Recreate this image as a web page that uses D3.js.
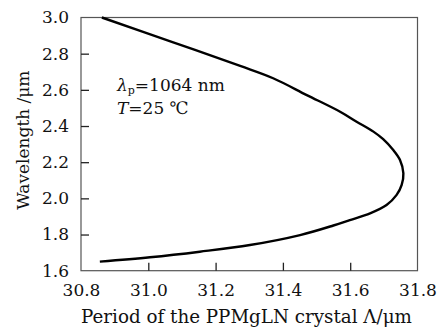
<!DOCTYPE html>
<html><head><meta charset="utf-8">
<script src="https://cdn.jsdelivr.net/npm/d3@7"></script>
<style>
html,body{margin:0;padding:0;background:#fff;}
svg{display:block;}
text{font-family:"DejaVu Serif",serif;fill:#111;}
</style></head>
<body><svg id="c" width="444" height="329"></svg>
<script>
// curve, ordered along the line (top end -> vertex -> bottom end)
const period = [30.862, 31.074, 31.273, 31.371, 31.471, 31.570, 31.619, 31.669, 31.698, 31.728, 31.748, 31.758, 31.753, 31.738, 31.708, 31.659, 31.599, 31.550, 31.451, 31.302, 31.153, 31.005, 30.856];
const wavelength = [3.000, 2.863, 2.732, 2.664, 2.571, 2.479, 2.424, 2.369, 2.327, 2.267, 2.212, 2.139, 2.074, 2.019, 1.963, 1.917, 1.880, 1.850, 1.797, 1.742, 1.705, 1.674, 1.650];
const xTicks = [30.8, 31.0, 31.2, 31.4, 31.6, 31.8];
const yTicks = [1.6, 1.8, 2.0, 2.2, 2.4, 2.6, 2.8, 3.0];

const svg = d3.select("#c");
const L = 81, R = 417.5, T = 17.5, B = 270.7;
const x = d3.scaleLinear().domain([30.8, 31.8]).range([L, R]);
const y = d3.scaleLinear().domain([1.6, 3.0]).range([B, T]);

// frame
svg.append("rect").attr("x", L).attr("y", T).attr("width", R - L).attr("height", B - T)
  .attr("fill", "none").attr("stroke", "#555").attr("stroke-width", 1.2);

const fs = 17;
const xa = svg.append("g").attr("transform", `translate(0,${B})`)
  .call(d3.axisBottom(x).tickValues(xTicks).tickFormat(d3.format(".1f")).tickSizeInner(-8).tickSizeOuter(0).tickPadding(13));
const ya = svg.append("g").attr("transform", `translate(${L},0)`)
  .call(d3.axisLeft(y).tickValues(yTicks).tickFormat(d3.format(".1f")).tickSizeInner(-8).tickSizeOuter(0).tickPadding(12));
[xa, ya].forEach(g => {
  g.select(".domain").remove();
  g.selectAll("text").attr("font-size", fs).attr("font-family", "DejaVu Serif").attr("fill", "#111");
  g.selectAll("line").attr("stroke", "#222").attr("stroke-width", 1.3);
});
xa.selectAll(".tick").filter(d => d === 30.8 || d === 31.8).select("line").remove();
ya.selectAll(".tick").filter(d => d === 1.6 || d === 3.0).select("line").remove();

// curve
const pts = period.map((p, i) => [p, wavelength[i]]);
svg.append("path").datum(pts)
  .attr("d", d3.line().x(d => x(d[0])).y(d => y(d[1])).curve(d3.curveCatmullRom.alpha(0.5)))
  .attr("fill", "none").attr("stroke", "#000").attr("stroke-width", 2.4);

// axis titles
svg.append("text").attr("x", 246.5).attr("y", 323).attr("text-anchor", "middle")
  .attr("font-size", 18.3).text("Period of the PPMgLN crystal Λ/μm");
svg.append("text").attr("transform", `translate(29,${(T + B) / 2 - 4}) rotate(-90)`).attr("text-anchor", "middle")
  .attr("font-size", fs).text("Wavelength /μm");

// annotation
const a1 = svg.append("text").attr("x", 117).attr("y", 91).attr("font-size", fs);
a1.append("tspan").attr("font-style", "italic").text("λ");
a1.append("tspan").attr("font-size", 11).attr("dy", 3).text("p");
a1.append("tspan").attr("dy", -3).text("=1064 nm");
const a2 = svg.append("text").attr("x", 117).attr("y", 114).attr("font-size", fs);
a2.append("tspan").attr("font-style", "italic").text("T");
a2.append("tspan").text("=25 ℃");
</script></body></html>
